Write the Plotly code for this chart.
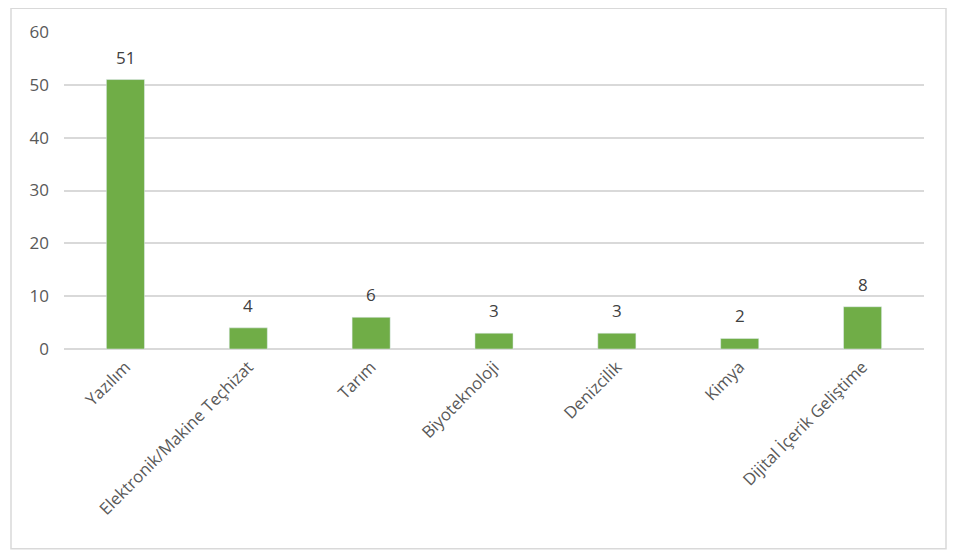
import plotly.graph_objects as go

categories = ['Yazılım', 'Elektronik/Makine Teçhizat', 'Tarım', 'Biyoteknoloji',
              'Denizcilik', 'Kimya', 'Dijital İçerik Geliştime']
counts = [51, 4, 6, 3, 3, 2, 8]
y_ticks = [0, 10, 20, 30, 40, 50, 60]

fig = go.Figure(go.Bar(
    x=categories,
    y=counts,
    marker_color='#70AD47',
    hoverinfo='x+y'
))

# value labels sit a bit higher above the bars than plotly's outside text
for cat, val in zip(categories, counts):
    fig.add_annotation(
        x=cat, y=val, text=str(val), showarrow=False,
        yanchor='bottom', yshift=9,
        font=dict(size=17, color='#404040')
    )

# page body has an 8px margin, so the figure is sized 8px smaller
# plot area in px: x 56..916, y 22..341
pw, ph = 860, 319
fig.add_shape(
    type='rect', xref='paper', yref='paper',
    x0=-53 / pw, x1=882 / pw, y0=-201 / ph, y1=343 / ph,
    line=dict(color='#D9D9D9', width=1.5), layer='below'
)

fig.update_layout(
    width=949, height=552,
    margin=dict(l=56, r=33, t=22, b=211),
    plot_bgcolor='white', paper_bgcolor='white',
    bargap=0.69,
    showlegend=False,
    font=dict(family='Open Sans, Liberation Sans, sans-serif', size=16, color='#595959'),
    xaxis=dict(tickangle=-45, showgrid=False, showline=False, ticks='',
               ticklabelstandoff=4,
               tickfont=dict(size=16.7, color='#595959')),
    yaxis=dict(range=[0, 60], tickvals=y_ticks, showgrid=True, gridcolor='#D9D9D9',
               gridwidth=1.5, zeroline=True, zerolinecolor='#D9D9D9', zerolinewidth=1.5,
               showline=False, ticks='', ticklen=0, ticklabelstandoff=14,
               tickfont=dict(size=17, color='#595959'))
)

fig.write_html("out.html")
